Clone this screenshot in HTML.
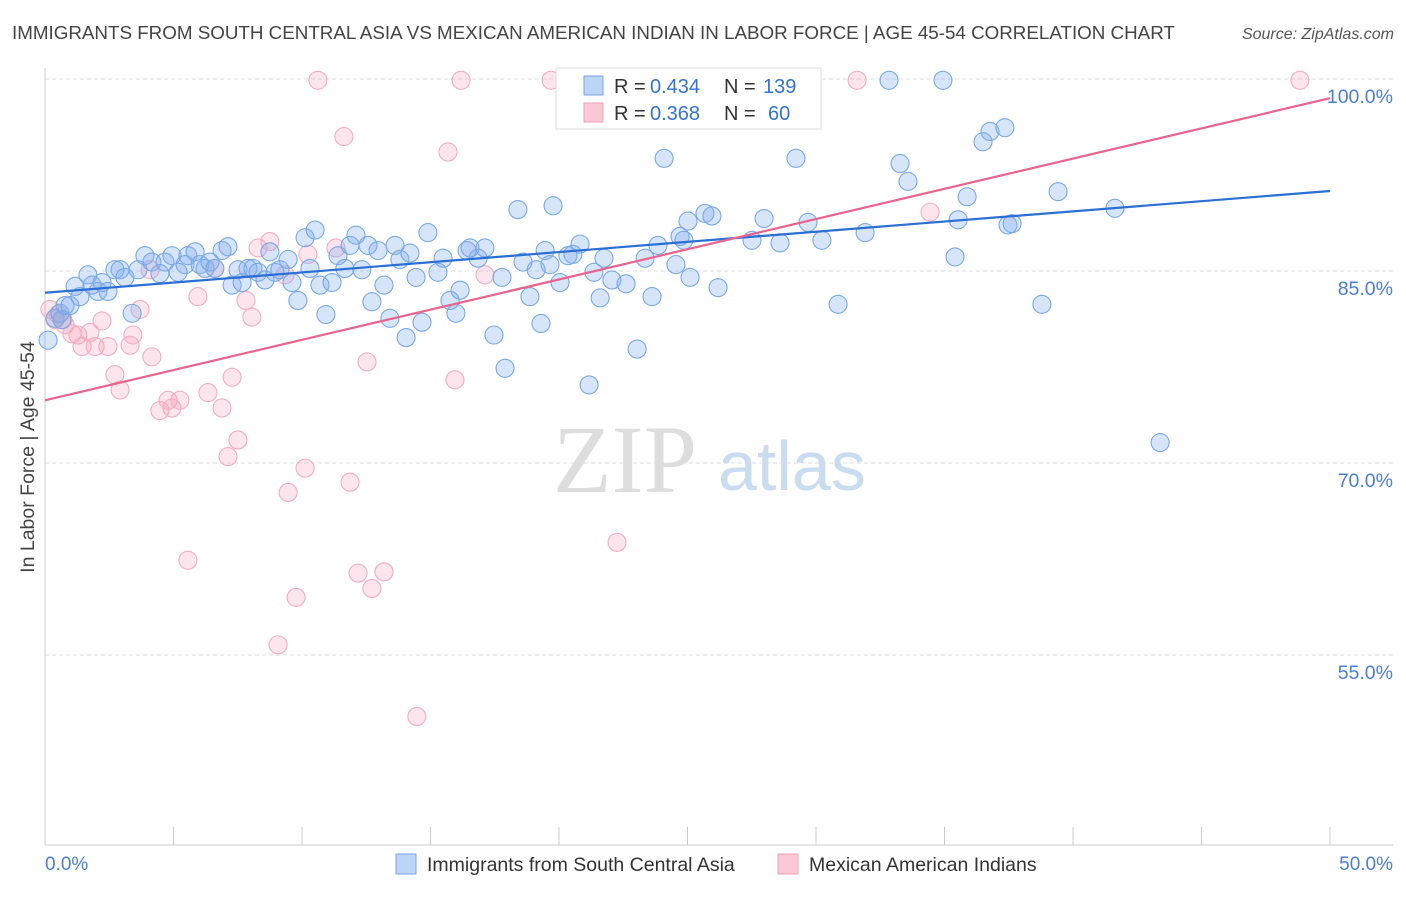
<!DOCTYPE html>
<html><head><meta charset="utf-8"><style>
body{margin:0;background:#fff;width:1406px;height:892px;overflow:hidden;font-family:"Liberation Sans",sans-serif}
</style></head><body>
<svg id="chart" width="1406" height="892" xmlns="http://www.w3.org/2000/svg" font-family="Liberation Sans, sans-serif">
<text x="12" y="39" font-size="18.8" fill="#444">IMMIGRANTS FROM SOUTH CENTRAL ASIA VS MEXICAN AMERICAN INDIAN IN LABOR FORCE | AGE 45-54 CORRELATION CHART</text>
<text x="1394" y="39" font-size="16" fill="#555" font-style="italic" text-anchor="end">Source: ZipAtlas.com</text>
<g>
<text x="553" y="492" font-family="Liberation Serif, serif" font-size="96" fill="#ddd">ZIP</text>
<text x="718" y="490" font-size="70" fill="#c9dcf0">atlas</text>
</g>
<g id="grid"></g><g id="axes"></g><g id="pts"></g><g id="lines"></g>
<g>
<rect x="556" y="68" width="265" height="61" fill="#fff" stroke="#ddd"/>
<rect x="584" y="76" width="19" height="19" fill="#bcd4f5" stroke="#7aa6e6"/>
<rect x="584" y="103" width="19" height="19" fill="#fbc8d6" stroke="#f0a0b8"/>
<text x="614" y="93" font-size="20" fill="#333">R =</text>
<text x="650" y="93" font-size="20" fill="#3572d4">0.434</text>
<text x="724" y="93" font-size="20" fill="#333">N =</text>
<text x="763" y="93" font-size="20" fill="#3572d4">139</text>
<text x="614" y="120" font-size="20" fill="#333">R =</text>
<text x="650" y="120" font-size="20" fill="#3572d4">0.368</text>
<text x="724" y="120" font-size="20" fill="#333">N =</text>
<text x="768" y="120" font-size="20" fill="#3572d4">60</text>
</g>
<text transform="translate(34,457) rotate(-90)" font-size="19.5" fill="#444" text-anchor="middle">In Labor Force | Age 45-54</text>
<text x="45" y="870" font-size="19" fill="#4a7fd6">0.0%</text>
<text x="1393" y="870" font-size="19" fill="#4a7fd6" text-anchor="end">50.0%</text>
<g>
<rect x="396" y="854" width="20" height="20" fill="#bcd4f5" stroke="#7aa6e6"/>
<text x="427" y="871" font-size="19.5" fill="#333">Immigrants from South Central Asia</text>
<rect x="778" y="854" width="20" height="20" fill="#fbc8d6" stroke="#f0a0b8"/>
<text x="809" y="871" font-size="19.5" fill="#333">Mexican American Indians</text>
</g>
</svg>
<script>
const yTicks=[100,85,70,55];
const yTickLabels=["100.0%","85.0%","70.0%","55.0%"];
const xTicks=[0,5,10,15,20,25,30,35,40,45,50];
const blueX=[0.12,0.39,0.58,0.66,0.78,0.97,1.17,1.36,1.67,1.83,2.06,2.22,2.45,2.72,2.92,3.11,3.39,3.62,3.89,4.16,4.47,4.67,4.94,5.18,5.45,5.56,5.84,6.03,6.23,6.42,6.61,6.89,7.12,7.28,7.51,7.67,7.90,8.09,8.29,8.56,8.75,8.95,9.14,9.46,9.61,9.84,10.12,10.31,10.51,10.70,10.93,11.17,11.40,11.67,11.87,12.10,12.33,12.57,12.72,12.96,13.19,13.42,13.62,13.81,14.05,14.20,14.44,14.67,14.90,15.29,15.49,15.76,15.99,16.15,16.42,16.54,16.85,17.12,17.47,17.78,17.90,18.40,18.60,18.87,19.11,19.30,19.46,19.65,19.77,20.04,20.35,20.54,20.82,21.17,21.36,21.60,21.75,22.06,22.61,23.04,23.35,23.62,23.85,24.09,24.55,24.71,24.86,25.10,25.02,25.68,25.95,26.19,27.51,27.98,28.60,29.22,29.69,30.23,30.86,31.91,32.84,33.27,33.58,34.94,35.41,35.53,35.88,36.50,36.77,37.35,37.47,37.63,38.79,39.42,41.63,43.39,29.38];
const blueY=[79.6,81.3,81.7,81.2,82.3,82.3,83.8,83.0,84.7,83.9,83.4,84.1,83.4,85.1,85.1,84.5,81.7,85.1,86.2,85.7,84.8,85.7,86.2,84.9,85.5,86.2,86.5,85.5,85.2,85.7,85.2,86.6,86.9,83.9,85.1,84.1,85.2,85.2,84.9,84.3,86.5,84.9,85.1,85.9,84.1,82.7,87.6,85.2,88.2,83.9,81.6,84.1,86.2,85.2,87.0,87.8,85.1,87.0,82.6,86.6,83.9,81.3,87.0,85.9,79.8,86.4,84.5,81.0,88.0,84.9,86.0,82.7,81.7,83.5,86.6,86.8,86.0,86.8,80.0,84.5,77.4,89.8,85.7,83.0,85.1,80.9,86.6,85.5,90.1,84.1,86.2,86.3,87.1,76.1,84.9,82.9,86.0,84.3,84.0,78.9,86.0,83.0,87.0,93.8,85.5,87.7,87.4,84.5,88.9,89.5,89.3,83.7,87.4,89.1,87.2,93.8,88.8,87.4,82.4,88.0,99.9,93.4,92.0,99.9,86.1,89.0,90.8,95.1,95.9,96.2,88.6,88.7,82.4,91.2,89.9,71.6,99.9];
const pinkX=[0.19,0.39,0.51,0.70,0.78,1.05,1.28,1.44,1.75,1.95,2.22,2.45,2.72,2.92,3.31,3.42,3.70,4.09,4.16,4.47,4.79,4.94,5.25,5.56,5.95,6.34,6.61,6.89,7.12,7.28,7.51,7.82,8.05,8.29,8.75,9.07,9.34,9.46,9.77,10.12,10.23,10.62,11.32,11.63,11.87,12.18,12.53,12.72,13.19,14.47,15.68,15.95,16.19,17.12,19.69,22.26,26.30,31.60,34.44,48.83];
const pinkY=[82.0,81.2,81.6,81.2,80.8,80.1,80.0,79.1,80.2,79.1,81.1,79.1,76.9,75.7,79.2,80.0,82.0,85.1,78.3,74.1,74.9,74.3,74.9,62.4,83.0,75.5,85.2,74.3,70.5,76.7,71.8,82.7,81.4,86.8,87.3,55.8,84.7,67.7,59.5,69.6,86.3,99.9,86.8,95.5,68.5,61.4,77.9,60.2,61.5,50.2,94.3,76.5,99.9,84.7,99.9,63.8,99.9,99.9,89.6,99.9];
const blueTrend=[83.3,91.25];
const pinkTrend=[74.9,98.5];
const NS="http://www.w3.org/2000/svg";
const X0=45,X1=1330,Y100=79,PPY=12.8;
function sx(v){return X0+(v/50)*(X1-X0);}
function sy(v){return Y100+(100-v)*PPY;}
function mk(tag,attrs,parent){const e=document.createElementNS(NS,tag);for(const k in attrs)e.setAttribute(k,attrs[k]);parent.appendChild(e);return e;}
const grid=document.getElementById('grid'),axes=document.getElementById('axes'),pts=document.getElementById('pts'),lines=document.getElementById('lines');
yTicks.forEach((t,i)=>{
  const l=mk('line',{x1:X0,x2:1393,y1:sy(t),y2:sy(t),stroke:'#ddd','stroke-dasharray':'4,3'},grid);
  
  
  const tx=mk('text',{x:1393,y:sy(t)+24,'font-size':19.5,fill:'#4a7fd6','text-anchor':'end'},grid);
  tx.textContent=yTickLabels[i];
  
  
});
const ya=mk('line',{x1:X0,x2:X0,y1:68,y2:845,stroke:'#ccc'},axes);


const xa=mk('line',{x1:X0,x2:1393,y1:845,y2:845,stroke:'#ccc'},axes);


xTicks.forEach(t=>{
  const tk=mk('line',{x1:sx(t),x2:sx(t),y1:827,y2:845,stroke:'#ccc'},axes);
  
  
});
function dots(xs,ys,fill,stroke,name){
  xs.forEach((x,i)=>{
    const c=mk('circle',{cx:sx(x),cy:sy(ys[i]),r:9,fill:fill,stroke:stroke,'stroke-width':1.1},pts);
    
    
  });
}
dots(pinkX,pinkY,'rgba(244,160,188,0.28)','#f2adc3','pink-point');
dots(blueX,blueY,'rgba(130,175,235,0.32)','#7aa8e4','blue-point');
const bl=mk('line',{x1:sx(0),y1:sy(blueTrend[0]),x2:sx(50),y2:sy(blueTrend[1]),stroke:'#2a6fd6','stroke-width':2.2},lines);


const pl=mk('line',{x1:sx(0),y1:sy(pinkTrend[0]),x2:sx(50),y2:sy(pinkTrend[1]),stroke:'#e8638e','stroke-width':2.2},lines);


</script>
</body></html>
